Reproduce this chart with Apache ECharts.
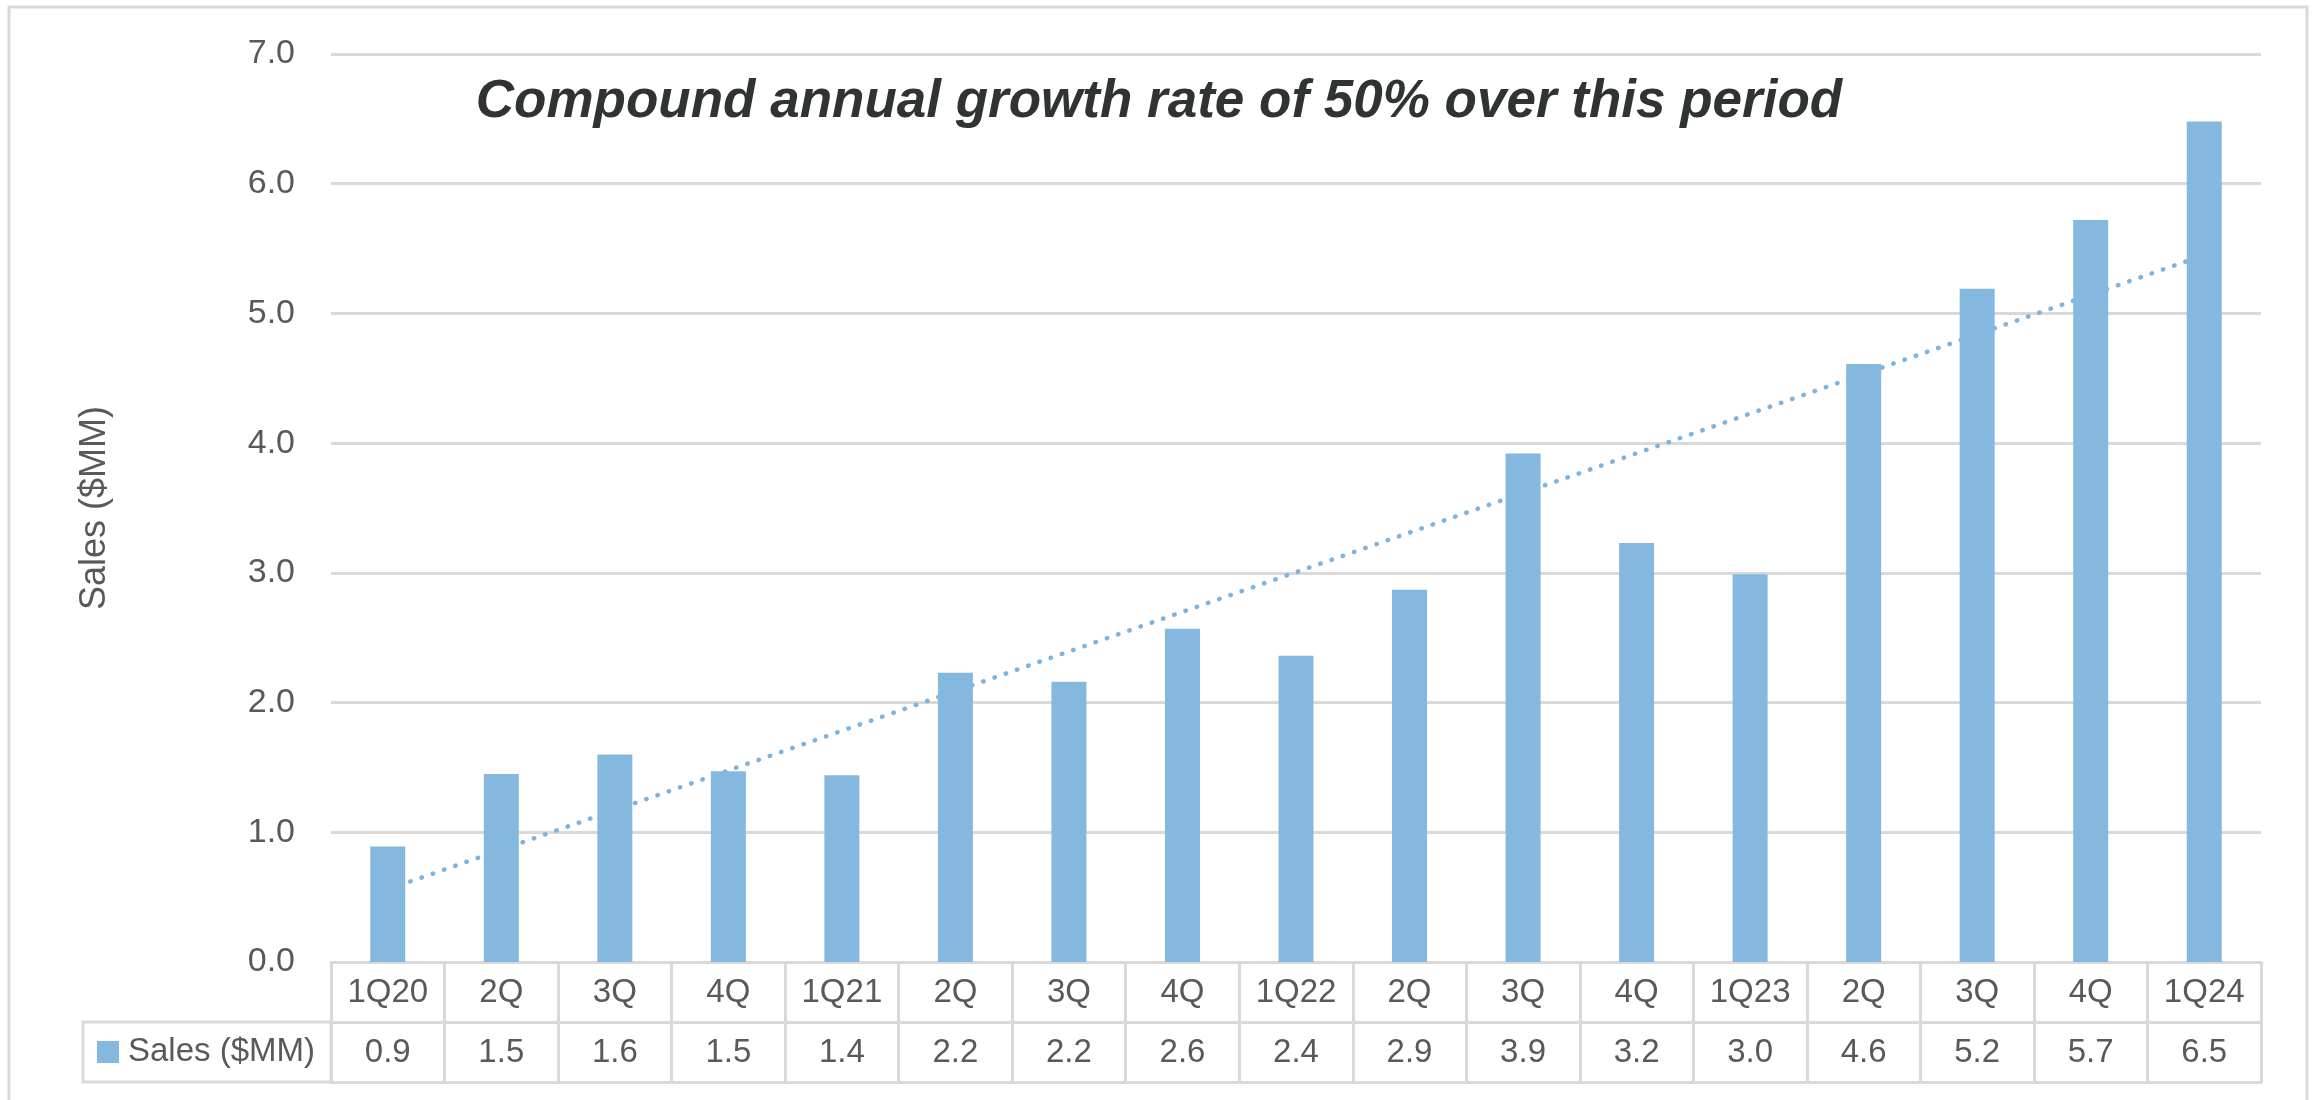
<!DOCTYPE html>
<html>
<head>
<meta charset="utf-8">
<script src="https://cdn.jsdelivr.net/npm/echarts@6/dist/echarts.min.js"></script>
<style>
html,body{margin:0;padding:0;background:#fff;}
#chart{width:2318px;height:1100px;}
</style>
</head>
<body>
<div id="chart"></div>
<script>
// ---- data ----
const categories = ['1Q20','2Q','3Q','4Q','1Q21','2Q','3Q','4Q','1Q22','2Q','3Q','4Q','1Q23','2Q','3Q','4Q','1Q24'];
const sales = [0.89,1.45,1.60,1.47,1.44,2.23,2.16,2.57,2.36,2.87,3.92,3.23,2.99,4.61,5.19,5.72,6.48];
const tableValues = ['0.9','1.5','1.6','1.5','1.4','2.2','2.2','2.6','2.4','2.9','3.9','3.2','3.0','4.6','5.2','5.7','6.5'];
const yTicks = [0,1,2,3,4,5,6,7];
const trendStart = 0.56;   // trend line value at first category
const trendEnd = 5.45;     // trend line value at last category
const seriesName = 'Sales ($MM)';
const titleText = 'Compound annual growth rate of 50% over this period';

const gray = '#d9d9d9';
const textGray = '#595959';
const barColor = '#84B8DF';
const font = "'Liberation Sans', Arial, sans-serif";

const chart = echarts.init(document.getElementById('chart'), null, {renderer:'canvas'});

const option = {
  backgroundColor: '#ffffff',
  animation: false,
  title: {
    text: titleText,
    left: 'center',
    top: 70,
    padding: 0,
    textStyle: {fontFamily: font, fontSize: 53, fontWeight: 'bold', fontStyle: 'italic', color: '#303334', lineHeight: 64}
  },
  legend: {
    data: [seriesName],
    left: 97,
    top: 1035,
    padding: 0,
    icon: 'rect',
    itemWidth: 22,
    itemHeight: 22,
    itemStyle: {color: barColor},
    textStyle: {fontFamily: font, fontSize: 33, color: textGray, lineHeight: 34, padding: [0,0,0,4]}
  },
  grid: {left: 331, right: 57, top: 54, bottom: 138, containLabel: false},
  xAxis: [
    {
      type: 'category',
      data: categories,
      position: 'bottom',
      axisLine: {show: true, lineStyle: {color: gray, width: 3}},
      axisTick: {show: true, interval: 0, length: 60, lineStyle: {color: gray, width: 3}},
      axisLabel: {interval: 0, margin: 31, verticalAlign: 'middle', fontFamily: font, fontSize: 33, color: textGray}
    },
    {
      type: 'category',
      data: tableValues,
      position: 'bottom',
      offset: 60,
      axisLine: {show: true, lineStyle: {color: gray, width: 3}},
      axisTick: {show: true, interval: 0, length: 60, lineStyle: {color: gray, width: 3}},
      axisLabel: {interval: 0, margin: 31, verticalAlign: 'middle', fontFamily: font, fontSize: 33, color: textGray}
    },
    {
      type: 'category',
      data: categories,
      position: 'bottom',
      offset: 120,
      axisLine: {show: true, lineStyle: {color: gray, width: 3}},
      axisTick: {show: false},
      axisLabel: {show: false}
    }
  ],
  yAxis: {
    type: 'value',
    min: 0,
    max: 7,
    interval: 1,
    name: seriesName,
    nameLocation: 'middle',
    nameGap: 218,
    nameRotate: 90,
    nameTextStyle: {fontFamily: font, fontSize: 36, color: textGray},
    axisLine: {show: false},
    axisTick: {show: false},
    axisLabel: {margin: 36, fontFamily: font, fontSize: 34, color: textGray,
      formatter: v => (yTicks.indexOf(v) >= 0 ? v.toFixed(1) : '')},
    splitLine: {show: true, lineStyle: {color: gray, width: 3}}
  },
  series: [
    {
      name: 'Linear trend',
      type: 'line',
      xAxisIndex: 0,
      data: [[0, trendStart], [categories.length - 1, trendEnd]],
      showSymbol: false,
      silent: true,
      z: 1,
      lineStyle: {color: '#7db3dd', width: 4.5, type: [0.5, 11.4], cap: 'round'}
    },
    {
      name: seriesName,
      type: 'bar',
      xAxisIndex: 0,
      data: sales,
      barWidth: 35,
      z: 3,
      itemStyle: {color: barColor}
    }
  ],
  graphic: [
    {
      type: 'rect',
      silent: true,
      shape: {x: 9, y: 7, width: 2298, height: 1100},
      style: {fill: null, stroke: gray, lineWidth: 3}
    },
    {
      type: 'rect',
      silent: true,
      shape: {x: 83, y: 1022, width: 248, height: 60},
      style: {fill: null, stroke: gray, lineWidth: 3}
    }
  ]
};
chart.setOption(option);
</script>
</body>
</html>
